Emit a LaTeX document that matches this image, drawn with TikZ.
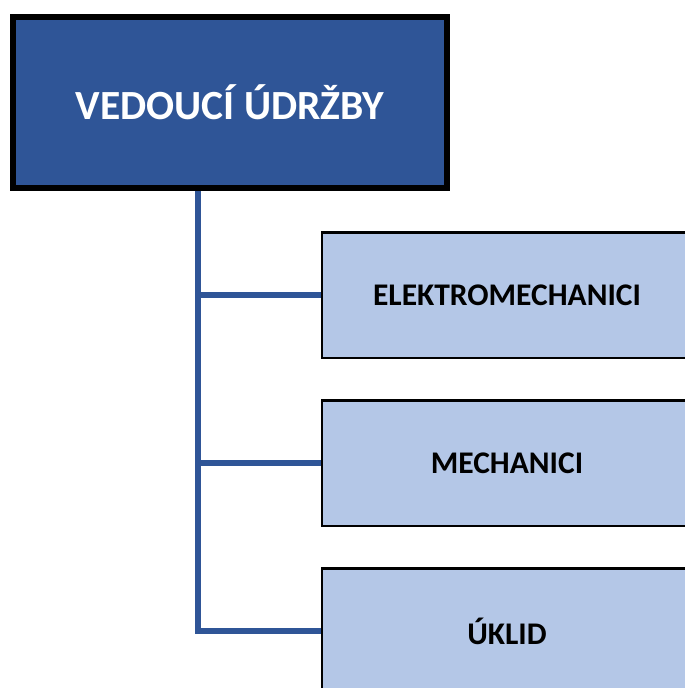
\documentclass[tikz,border=0pt]{standalone}
\usepackage{fontspec}
\setmainfont{Carlito}
\usepackage{tikz}
\usetikzlibrary{calc,positioning}

\definecolor{darkblue}{HTML}{2F5597}
\definecolor{lightblue}{HTML}{B4C7E7}

\tikzset{
	headbox/.style={draw=black,line width=6pt,fill=darkblue,text=white,font=\fontsize{41.5}{44}\selectfont\bfseries,minimum width=434pt,minimum height=171pt,inner sep=0pt},
	teambox/.style={draw=black,line width=2.5pt,fill=lightblue,text=black,font=\fontsize{31.5}{34}\selectfont\bfseries,minimum width=370pt,minimum height=125.5pt,inner sep=0pt},
	branch/.style={draw=darkblue,line width=5.5pt}
}

\begin{document}
\begin{tikzpicture}[x=1pt,y=-1pt]
				%\draw[color=gray,step=10pt,help lines,opacity=0.3] (0,0) grid (685,688); %help grids
				\useasboundingbox (0,0) rectangle (685,688);
				\node[headbox] (vedouci) at (230,102.5) {VEDOUCÍ ÚDRŽBY};
				\node[teambox] (elektro) at (507,295) {ELEKTROMECHANICI};
				\node[teambox] (mechanici) at (507,463) {MECHANICI};
				\node[teambox] (uklid) at (507,631) {ÚKLID};
				\coordinate (stem) at (198,191);
				\draw[branch] (stem) |- (uklid.west);
				\draw[branch] (stem |- elektro.west) -- (elektro.west);
				\draw[branch] (stem |- mechanici.west) -- (mechanici.west);
\end{tikzpicture}
\end{document}
